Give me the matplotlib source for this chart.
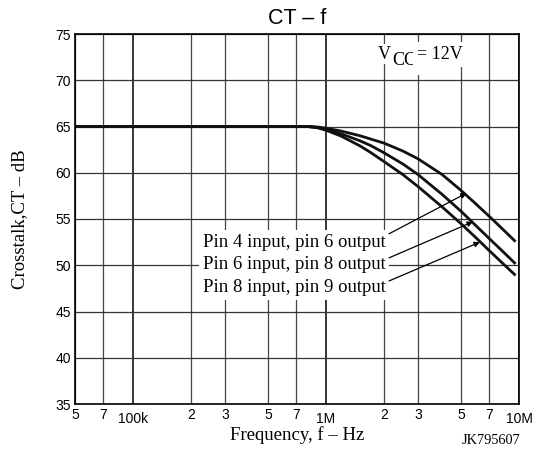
import matplotlib
matplotlib.use("Agg")
import matplotlib.pyplot as plt

# curves (frequency in Hz, crosstalk in dB)
freq = [50e3, 800e3, 900e3, 1e6, 1.2e6, 1.5e6, 1.7e6, 2e6, 2.5e6, 3e6,
        4e6, 5e6, 6e6, 7e6, 8e6, 9.6e6]
ct_pin4_6 = [65, 65, 64.95, 64.82, 64.5, 64.0, 63.65, 63.2, 62.35, 61.5,
             59.8, 58.1, 56.6, 55.3, 54.15, 52.55]
ct_pin6_8 = [65, 65, 64.9, 64.7, 64.2, 63.45, 62.95, 62.15, 60.95, 59.8,
             57.65, 55.85, 54.25, 52.9, 51.75, 50.15]
ct_pin8_9 = [65, 65, 64.87, 64.6, 63.95, 62.9, 62.2, 61.2, 59.8, 58.5,
             56.3, 54.5, 52.95, 51.6, 50.45, 48.9]

labels = ["Pin 4 input, pin 6 output",
          "Pin 6 input, pin 8 output",
          "Pin 8 input, pin 9 output"]

decade_ticks = [1e5, 1e6, 1e7]
decade_labels = ["100k", "1M", "10M"]
minor_ticks = [5e4, 7e4, 2e5, 3e5, 5e5, 7e5, 2e6, 3e6, 5e6, 7e6]
minor_labels = ["5", "7", "2", "3", "5", "7", "2", "3", "5", "7"]
y_ticks = [35, 40, 45, 50, 55, 60, 65, 70, 75]

SERIF = "Liberation Serif"
SANS = "Liberation Sans"
W, H = 535, 449

fig = plt.figure(figsize=(W / 100, H / 100), dpi=100)
ax = fig.add_axes([75 / W, 45 / H, 444 / W, 370 / H])

ax.set_xscale("log")
ax.set_xlim(5e4, 1e7)
ax.set_ylim(35, 75)

ax.set_xticks(decade_ticks)
ax.set_xticklabels(decade_labels, family=SANS, fontsize=10)
ax.set_xticks(minor_ticks, minor=True)
ax.set_xticklabels(minor_labels, minor=True, family=SANS, fontsize=10)
ax.set_yticks(y_ticks)
ax.set_yticklabels([str(v) for v in y_ticks], family=SANS, fontsize=10)

ax.tick_params(axis="x", which="major", length=0, pad=5.5)
ax.tick_params(axis="x", which="minor", length=0, pad=3)
ax.tick_params(axis="y", length=0, pad=3)

ax.grid(True, axis="x", which="major", color="black", lw=1.1)
ax.grid(True, axis="x", which="minor", color="#444444", lw=0.9)
ax.grid(True, axis="y", which="major", color="#333333", lw=0.9)
for s in ax.spines.values():
    s.set_linewidth(1.2)

for ct in (ct_pin4_6, ct_pin6_8, ct_pin8_9):
    ax.plot(freq, ct, color="#111111", lw=2.0, solid_capstyle="butt",
            solid_joinstyle="round", zorder=4)

# labels with leader lines
label_x = 2.04e6
label_y = [52.5, 50.1, 47.6]
line_start = [(2.12e6, 53.4), (2.12e6, 50.8), (2.12e6, 48.3)]
line_tip = [(5.35e6, 57.8), (5.77e6, 54.7), (6.27e6, 52.5)]
for text, ty, start, tip in zip(labels, label_y, line_start, line_tip):
    ax.text(label_x, ty, text, ha="right", va="center", family=SERIF,
            fontsize=13.5, zorder=5,
            bbox=dict(facecolor="white", edgecolor="none", pad=2.5))
    ax.annotate("", xy=tip, xytext=start,
                arrowprops=dict(arrowstyle="-|>", color="black", lw=0.9,
                                mutation_scale=8, shrinkA=0, shrinkB=0),
                zorder=5)

# V_CC = 12V with the CC dropped below the baseline
ax.text(2.20e6, 71.6, "CC", ha="left", va="baseline", family=SERIF,
        fontsize=13, zorder=5,
        bbox=dict(facecolor="white", edgecolor="none", pad=4))
ax.text(1.86e6, 72.33, "V", ha="left", va="baseline", family=SERIF,
        fontsize=13, zorder=6,
        bbox=dict(facecolor="white", edgecolor="none", pad=1))
ax.text(2.96e6, 72.33, "= 12V", ha="left", va="baseline", family=SERIF,
        fontsize=13, zorder=6,
        bbox=dict(facecolor="white", edgecolor="none", pad=3))

fig.text(297 / W, 1 - 18 / H, "CT \u2013 f", ha="center", va="center",
         family=SANS, fontsize=15.5)
ax.set_xlabel("Frequency, f \u2013 Hz", family=SERIF, fontsize=13.5)
ax.xaxis.label.set_va("center")
ax.xaxis.set_label_coords(0.5, (H - 435 - 45) / 370)
ax.set_ylabel("Crosstalk,CT \u2013 dB", family=SERIF, fontsize=13.5)
ax.yaxis.label.set_va("center")
ax.yaxis.set_label_coords((20 - 75) / 444, 0.5)

fig.text(491 / W, 1 - 440 / H, "JK795607", ha="center", va="center",
         family=SERIF, fontsize=10.3)

fig.savefig("out.png", dpi=100)
